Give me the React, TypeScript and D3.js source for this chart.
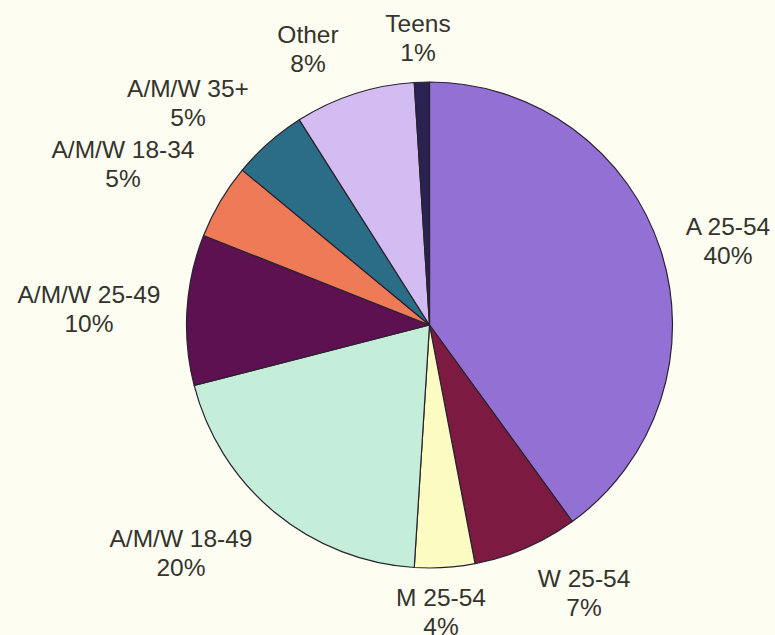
import React from "react";
import * as d3 from "d3";

const categories = ["A 25-54", "W 25-54", "M 25-54", "A/M/W 18-49", "A/M/W 25-49", "A/M/W 18-34", "A/M/W 35+", "Other", "Teens"];
const values = [40, 7, 4, 20, 10, 5, 5, 8, 1];
const colors = ["#9270d4", "#7c1a42", "#fbfbc2", "#c4eed9", "#5e1150", "#ef7a58", "#2b6d86", "#d2bcf1", "#2a2250"];
// label anchor (center x, baseline y of first line)
const labelPos: [number, number][] = [
  [728, 235],
  [584, 587],
  [441, 606],
  [181, 547],
  [89, 303],
  [123, 158],
  [188, 97],
  [308, 43],
  [418, 32],
];

const W = 775;
const H = 635;
const cx = 429.5;
const cy = 325;
const R = 243;

export default function App() {
  const pie = d3.pie<number>().sort(null).value((d) => d).startAngle(0).endAngle(2 * Math.PI);
  const arcs = pie(values);
  const arc = d3.arc<d3.PieArcDatum<number>>().innerRadius(0).outerRadius(R);
  return (
    <svg width={W} height={H} style={{ position: "absolute", left: 0, top: 0, background: "#fdfdf2" }}>
      <rect x={0} y={0} width={W} height={H} fill="#fdfdf2" />
      <g transform={`translate(${cx},${cy})`}>
        {arcs.map((a, i) => (
          <path key={i} d={arc(a) || ""} fill={colors[i]} stroke="#2a2230" strokeWidth={1.2} strokeLinejoin="round" />
        ))}
      </g>
      {categories.map((c, i) => (
        <text
          key={c}
          x={labelPos[i][0]}
          y={labelPos[i][1]}
          textAnchor="middle"
          fontFamily="'Liberation Sans', Arial, sans-serif"
          fontSize={24.5}
          fill="#34342c"
        >
          <tspan x={labelPos[i][0]}>{c}</tspan>
          <tspan x={labelPos[i][0]} dy={28.5}>{values[i]}%</tspan>
        </text>
      ))}
    </svg>
  );
}
